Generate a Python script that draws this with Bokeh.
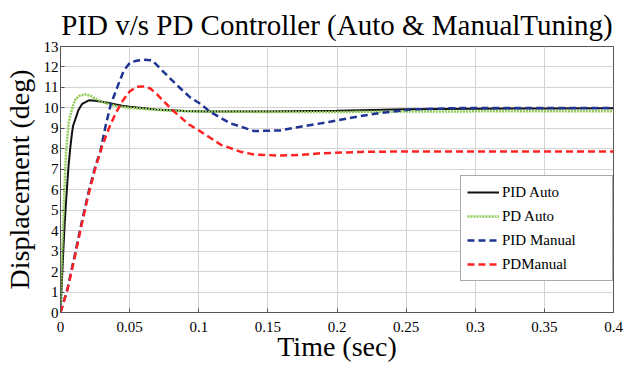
from bokeh.plotting import figure
from bokeh.models import FixedTicker, Legend, LegendItem, Range1d
from bokeh.embed import file_html
from bokeh.resources import INLINE

# ---- data ----
t_pid_auto = [0, 0.001, 0.002, 0.003, 0.004, 0.005, 0.006, 0.007, 0.008, 0.009, 0.011, 0.013,
              0.0157, 0.0205, 0.025, 0.03, 0.035, 0.04, 0.0446, 0.05, 0.0687, 0.09, 0.105,
              0.15, 0.2, 0.217, 0.25, 0.3, 0.35, 0.4]
y_pid_auto = [0, 1.5, 3.0, 4.3, 5.4, 6.4, 7.3, 8.0, 8.6, 9.1, 9.5, 9.9,
              10.2, 10.37, 10.35, 10.3, 10.24, 10.17, 10.1, 10.05, 9.92, 9.85, 9.82,
              9.82, 9.86, 9.89, 9.93, 9.96, 9.97, 9.98]

t_pd_auto = [0, 0.001, 0.002, 0.003, 0.004, 0.005, 0.006, 0.007, 0.009, 0.011, 0.014, 0.018,
             0.022, 0.025, 0.03, 0.035, 0.04, 0.05, 0.06, 0.07, 0.08, 0.1, 0.15, 0.2,
             0.25, 0.3, 0.35, 0.4]
y_pd_auto = [0, 2.5, 4.5, 6.3, 7.8, 8.6, 9.3, 9.6, 10.1, 10.45, 10.6, 10.66,
             10.58, 10.45, 10.3, 10.18, 10.1, 10.0, 9.95, 9.9, 9.86, 9.82, 9.8, 9.8,
             9.82, 9.83, 9.84, 9.84]

t_pid_manual = [0, 0.005, 0.01, 0.015, 0.02, 0.025, 0.0289, 0.0325, 0.0362, 0.041, 0.0458,
                0.0506, 0.055, 0.0603, 0.0663, 0.0747, 0.0844, 0.094, 0.1, 0.1085, 0.123,
                0.14, 0.159, 0.1736, 0.195, 0.217, 0.231, 0.253, 0.28, 0.3, 0.35, 0.4]
y_pid_manual = [0, 1.15, 2.7, 4.3, 5.8, 7.1, 7.9, 9.08, 10.13, 11.0, 11.83,
                12.23, 12.3, 12.35, 12.32, 11.75, 11.1, 10.5, 10.25, 9.8, 9.24,
                8.87, 8.9, 9.08, 9.32, 9.6, 9.75, 9.92, 9.98, 10.0, 10.0, 10.0]

t_pd_manual = [0, 0.005, 0.01, 0.015, 0.02, 0.025, 0.03, 0.035, 0.04, 0.045, 0.05, 0.055,
               0.06, 0.065, 0.07, 0.075, 0.08, 0.0868, 0.0926, 0.1, 0.108, 0.116, 0.13,
               0.14, 0.159, 0.174, 0.188, 0.217, 0.25, 0.3, 0.35, 0.4]
y_pd_manual = [0, 1.1, 2.6, 4.2, 5.7, 7.0, 8.1, 9.0, 9.75, 10.35, 10.8, 11.03,
               11.05, 10.95, 10.65, 10.3, 9.95, 9.55, 9.2, 8.9, 8.55, 8.2, 7.86,
               7.72, 7.67, 7.7, 7.78, 7.85, 7.87, 7.87, 7.87, 7.87]

x_ticks = [0, 0.05, 0.1, 0.15, 0.2, 0.25, 0.3, 0.35, 0.4]
x_tick_labels = ["0", "0.05", "0.1", "0.15", "0.2", "0.25", "0.3", "0.35", "0.4"]
y_ticks = list(range(0, 14))

series_labels = ["PID Auto", "PD Auto", "PID Manual", "PDManual"]

FONT = "Liberation Serif"

p = figure(width=628, height=370, x_range=Range1d(0, 0.4), y_range=Range1d(0, 13),
           output_backend="svg", toolbar_location=None,
           title="PID v/s PD Controller (Auto & ManualTuning)",
           min_border_left=60, min_border_right=15, min_border_top=44, min_border_bottom=58)

p.title.text_font = FONT
p.title.text_font_size = "29px"
p.title.text_font_style = "normal"
p.title.align = "center"
p.title.standoff = 12
p.title.text_color = "black"

p.xaxis.ticker = FixedTicker(ticks=x_ticks)
p.xaxis.major_label_overrides = {tk: lb for tk, lb in zip(x_ticks, x_tick_labels)}
p.yaxis.ticker = FixedTicker(ticks=y_ticks)

p.xaxis.axis_label = "Time (sec)"
p.yaxis.axis_label = "Displacement (deg)"
for ax in (p.xaxis, p.yaxis):
    ax.axis_label_text_font = FONT
    ax.axis_label_text_font_size = "28px"
    ax.axis_label_text_font_style = "normal"
    ax.axis_label_text_color = "black"
    ax.major_label_text_font = FONT
    ax.major_label_text_font_size = "15px"
    ax.major_label_text_color = "black"
    ax.major_tick_in = 4
    ax.major_tick_out = 0
    ax.minor_tick_line_color = None
    ax.axis_line_color = "#555555"
    ax.major_tick_line_color = "#555555"

p.xaxis.major_label_standoff = 9
p.xaxis.axis_label_standoff = -4
p.yaxis.major_label_standoff = 2
p.yaxis.axis_label_standoff = 6

p.grid.grid_line_color = "#d4d4d4"
p.grid.grid_line_width = 1
p.outline_line_color = "#555555"
p.outline_line_width = 1
p.background_fill_color = "white"

r1 = p.line(t_pid_auto, y_pid_auto, line_color="#111111", line_width=2)
r2 = p.line(t_pd_auto, y_pd_auto, line_color="#8fcb55", line_width=2.5, line_dash="2 1")
r3 = p.line(t_pid_manual, y_pid_manual, line_color="#1f3592", line_width=2.5, line_dash="7 4")
r4 = p.line(t_pd_manual, y_pd_manual, line_color="#ff2222", line_width=2.5, line_dash="7 4")

legend = Legend(items=[LegendItem(label=lb, renderers=[r])
                       for lb, r in zip(series_labels, [r1, r2, r3, r4])],
                location=(400, 31))
legend.label_text_font = FONT
legend.label_text_font_size = "15px"
legend.label_text_color = "black"
legend.glyph_width = 32
legend.glyph_height = 20
legend.label_height = 20
legend.spacing = 4
legend.padding = 6
legend.margin = 0
legend.label_standoff = 3
legend.label_width = 104
legend.border_line_color = "#555555"
legend.border_line_width = 1
legend.background_fill_color = "white"
legend.background_fill_alpha = 1
p.add_layout(legend)

open("out.html", "w").write(file_html(p, INLINE))
